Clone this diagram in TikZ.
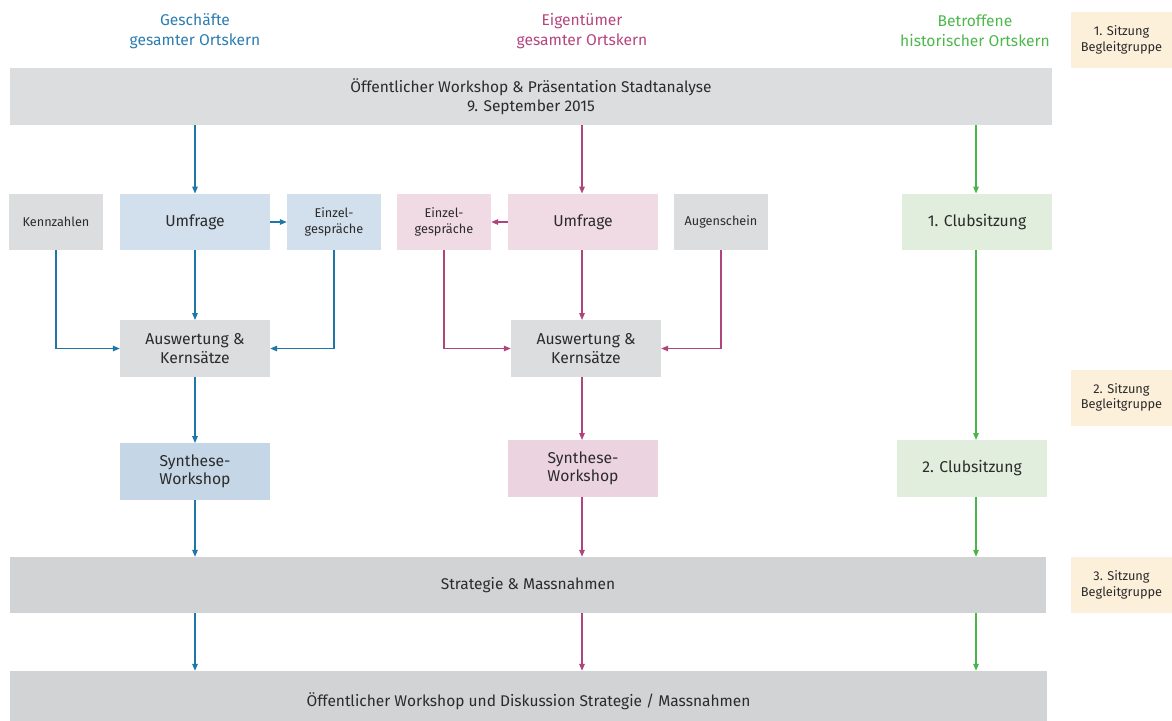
\documentclass[tikz,border=0pt]{standalone}
\usepackage{fontspec}
\setmainfont{Fira Sans}
\usetikzlibrary{arrows.meta}
\definecolor{blueline}{HTML}{1F77A7}
\definecolor{bluetxt}{HTML}{2B7DB0}
\definecolor{bluefill}{HTML}{D2DFEC}
\definecolor{bluefilltwo}{HTML}{C5D7E7}
\definecolor{pinkline}{HTML}{B0457D}
\definecolor{pinktxt}{HTML}{B5457D}
\definecolor{pinkfill}{HTML}{F0DAE4}
\definecolor{pinkfilltwo}{HTML}{EBD3DF}
\definecolor{greenline}{HTML}{49B649}
\definecolor{greentxt}{HTML}{4CB84C}
\definecolor{greenfill}{HTML}{E1EDDD}
\definecolor{grayfill}{HTML}{DCDDDF}
\definecolor{grayfilltwo}{HTML}{D2D3D5}
\definecolor{beige}{HTML}{FDF0DA}
\definecolor{txt}{HTML}{2B2B2B}
\tikzset{
  box/.style={rectangle, inner sep=0pt, align=center, text=txt, minimum width=150pt, minimum height=56.5pt, font=\fontsize{15.7}{18.5}\selectfont},
  smallbox/.style={box, minimum width=94pt, font=\fontsize{12.7}{16}\selectfont},
  bar/.style={rectangle, inner sep=0pt, align=center, text=txt, font=\fontsize{15.5}{19}\selectfont},
  sitz/.style={rectangle, inner sep=0pt, align=center, text=txt, fill=beige, minimum width=101pt, minimum height=56pt, font=\fontsize{12.8}{15.5}\selectfont},
  head/.style={align=center, inner sep=0pt, font=\fontsize{15.6}{20}\selectfont},
  arr/.style={line width=1.3pt, -{Triangle[length=7pt,width=5.5pt]}},
  barr/.style={arr, draw=blueline},
  parr/.style={arr, draw=pinkline},
  garr/.style={arr, draw=greenline},
}
\begin{document}
\begin{tikzpicture}[x=1pt,y=-1pt]
\useasboundingbox (0,0) rectangle (1172,720);
% headers
\node[head, text=bluetxt] (hb) at (195,31) {Geschäfte\\gesamter Ortskern};
\node[head, text=pinktxt] (hp) at (582,31) {Eigentümer\\gesamter Ortskern};
\node[head, text=greentxt] (hg) at (975,31) {Betroffene\\historischer Ortskern};
% Sitzung boxes
\node[sitz] (s1) at (1121.5,40) {1. Sitzung\\Begleitgruppe};
\node[sitz] (s2) at (1121.5,397.5) {2. Sitzung\\Begleitgruppe};
\node[sitz] (s3) at (1121.5,585) {3. Sitzung\\Begleitgruppe};
% bars
\node[bar, fill=grayfill, minimum width=1042pt, minimum height=57pt] (top) at (531,96.5) {Öffentlicher Workshop \& Präsentation Stadtanalyse\\9. September 2015};
\node[bar, fill=grayfilltwo, minimum width=1036pt, minimum height=56pt] (strat) at (528,585) {Strategie \& Massnahmen};
\node[bar, fill=grayfilltwo, minimum width=1037pt, minimum height=60pt] (bot) at (528.5,701) {Öffentlicher Workshop und Diskussion Strategie / Massnahmen};
% row 2
\node[smallbox, fill=grayfill] (kenn) at (56,222) {Kennzahlen};
\node[box, fill=bluefill] (umfb) at (195,222) {Umfrage};
\node[smallbox, fill=bluefill] (einzb) at (334,222) {Einzel-\\gespräche};
\node[smallbox, fill=pinkfill] (einzp) at (444,222) {Einzel-\\gespräche};
\node[box, fill=pinkfill] (umfp) at (583,222) {Umfrage};
\node[smallbox, fill=grayfill] (aug) at (721,222) {Augenschein};
\node[box, fill=greenfill] (club1) at (977,222) {1. Clubsitzung};
% row 3
\node[box, fill=grayfill] (auswb) at (195,348.5) {Auswertung \&\\Kernsätze};
\node[box, fill=grayfill] (auswp) at (586,348.5) {Auswertung \&\\Kernsätze};
% row 4
\node[box, fill=bluefilltwo] (synb) at (195,471.5) {Synthese-\\Workshop};
\node[box, fill=pinkfilltwo] (synp) at (583,468.5) {Synthese-\\Workshop};
\node[box, fill=greenfill] (club2) at (972,468.5) {2. Clubsitzung};
% column coordinates
\coordinate (bx) at (195,0);
\coordinate (px) at (582,0);
\coordinate (gx) at (976,0);
% blue arrows
\draw[barr] (top.south -| bx) -- (umfb.north -| bx);
\draw[barr] (umfb.east) -- (einzb.west);
\draw[barr] (umfb.south -| bx) -- (auswb.north -| bx);
\draw[barr] (kenn.south) |- (auswb.west);
\draw[barr] (einzb.south) |- (auswb.east);
\draw[barr] (auswb.south -| bx) -- (synb.north -| bx);
\draw[barr] (synb.south -| bx) -- (strat.north -| bx);
\draw[barr] (strat.south -| bx) -- (bot.north -| bx);
% pink arrows
\draw[parr] (top.south -| px) -- (umfp.north -| px);
\draw[parr] (umfp.west) -- (einzp.east);
\draw[parr] (umfp.south -| px) -- (auswp.north -| px);
\draw[parr] (einzp.south) |- (auswp.west);
\draw[parr] (aug.south) |- (auswp.east);
\draw[parr] (auswp.south -| px) -- (synp.north -| px);
\draw[parr] (synp.south -| px) -- (strat.north -| px);
\draw[parr] (strat.south -| px) -- (bot.north -| px);
% green arrows
\draw[garr] (top.south -| gx) -- (club1.north -| gx);
\draw[garr] (club1.south -| gx) -- (club2.north -| gx);
\draw[garr] (club2.south -| gx) -- (strat.north -| gx);
\draw[garr] (strat.south -| gx) -- (bot.north -| gx);
\end{tikzpicture}
\end{document}
